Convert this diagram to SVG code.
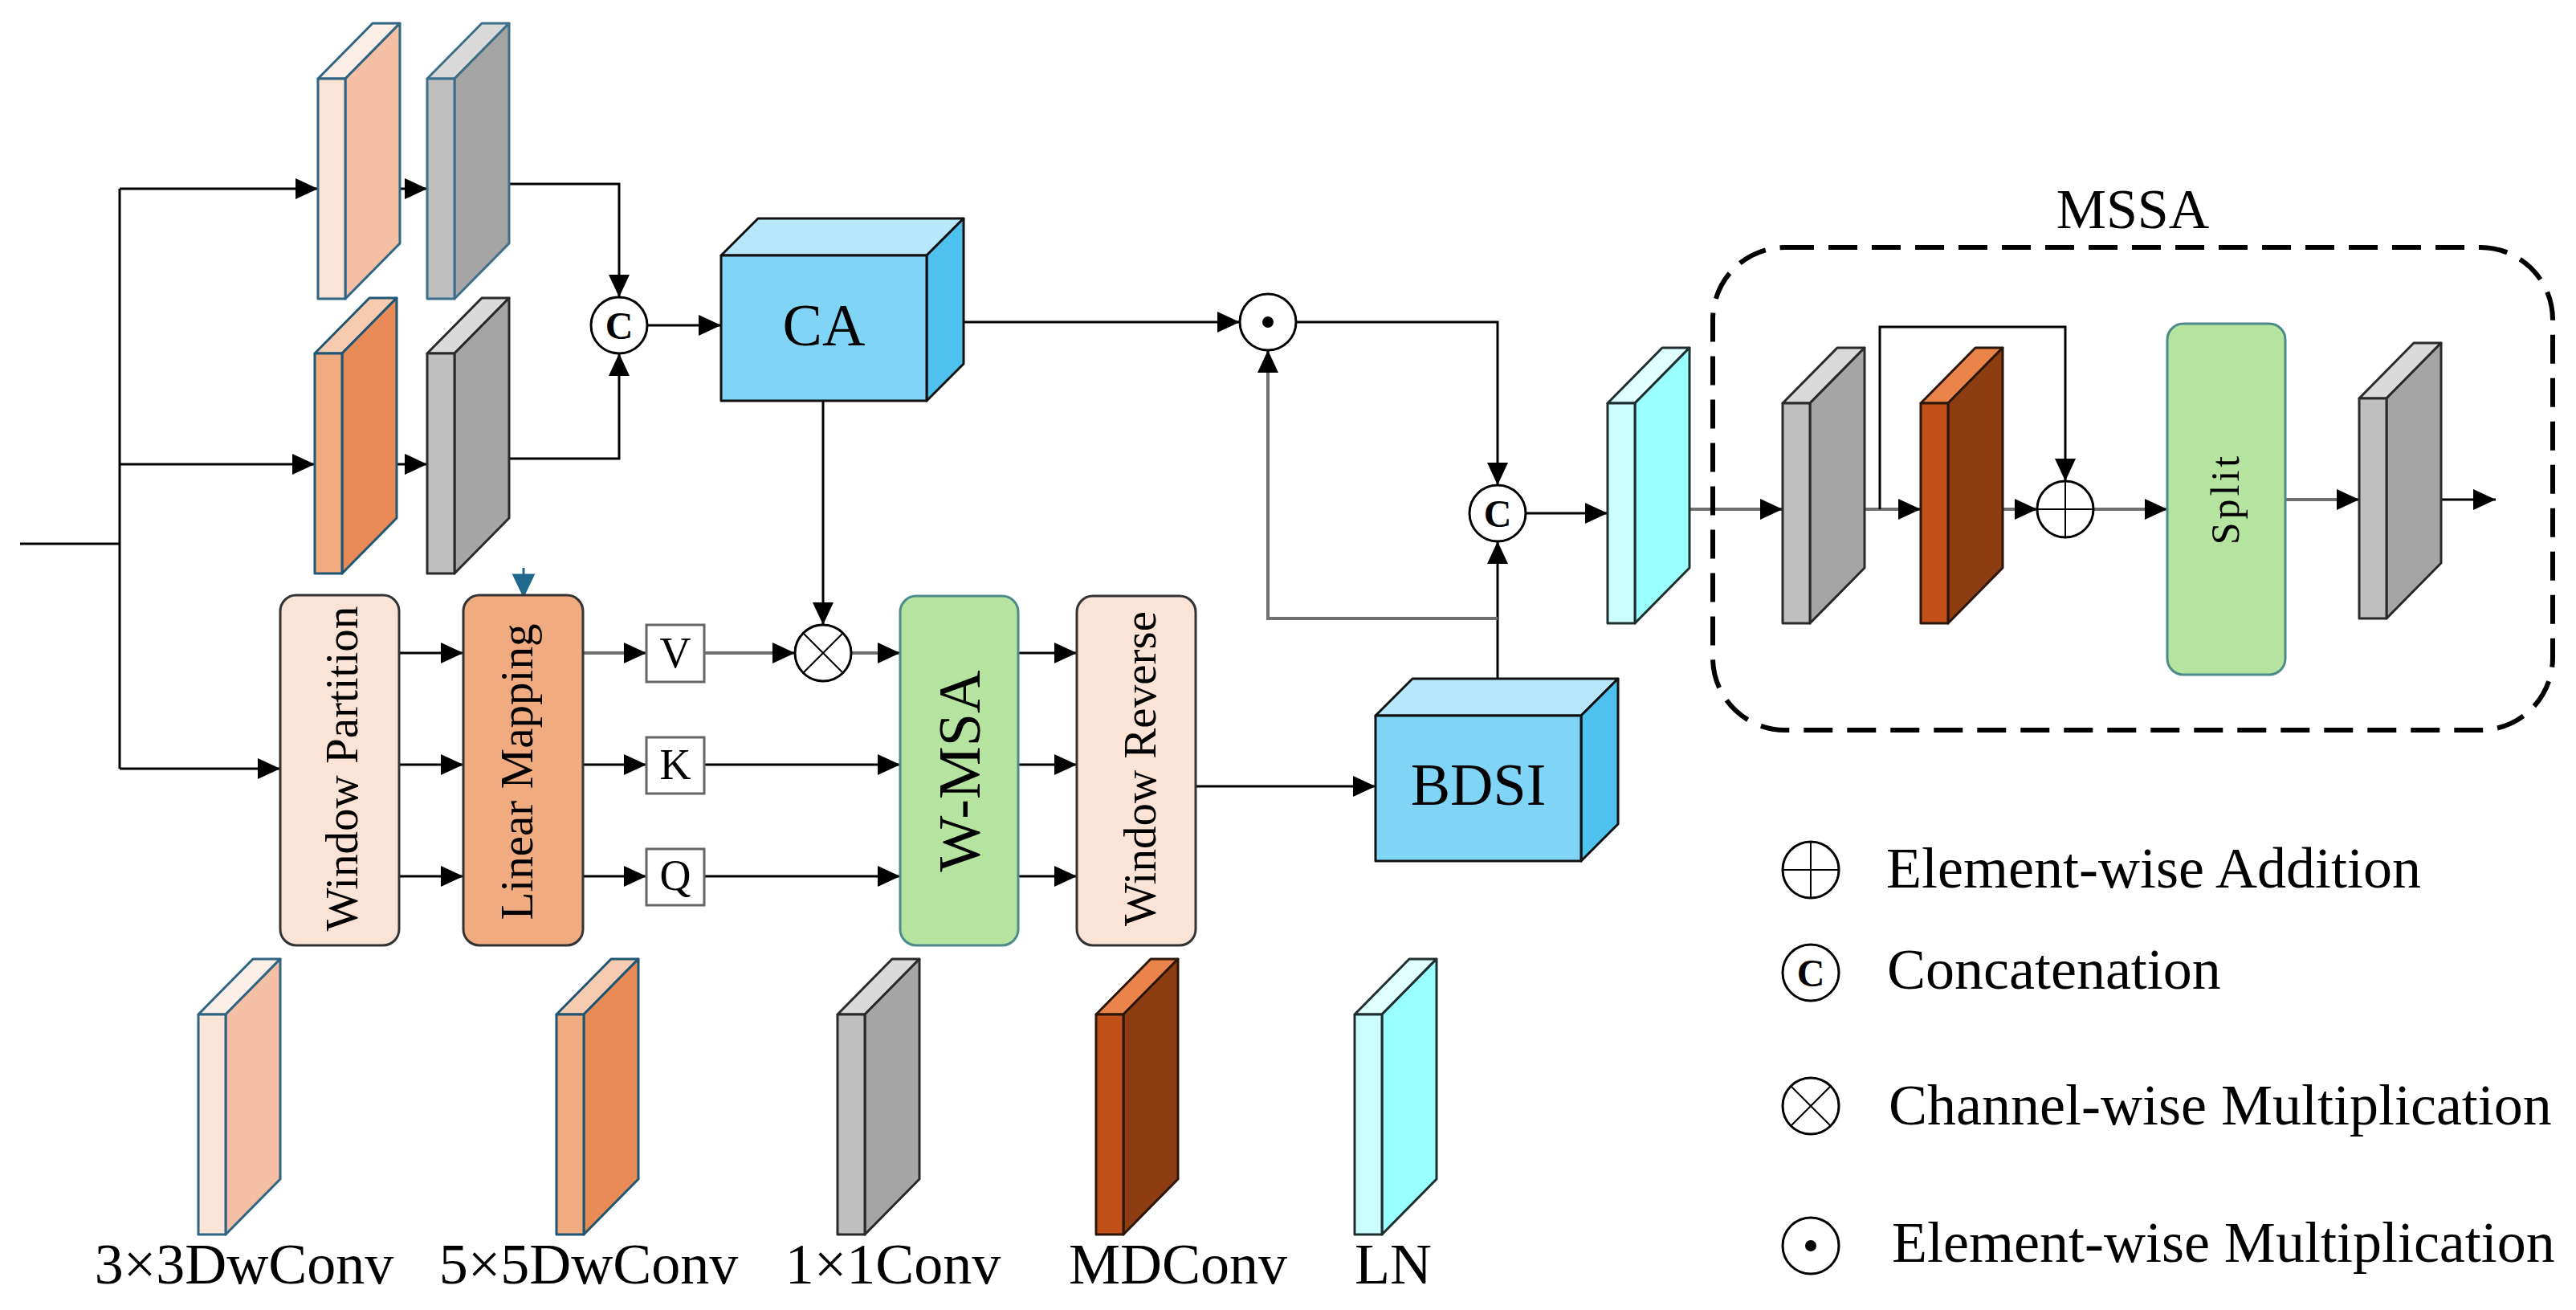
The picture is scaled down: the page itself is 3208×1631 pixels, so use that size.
<svg xmlns="http://www.w3.org/2000/svg" xmlns:xlink="http://www.w3.org/1999/xlink" width="3208" height="1631" viewBox="0 0 3208 1631">
<style>
.t{font-family:"Liberation Serif","Times New Roman",serif;fill:#000}
.ln{fill:none;stroke:#000;stroke-width:3}
.lg{fill:none;stroke:#707070;stroke-width:4}
.arr{marker-end:url(#ah)}
.op{fill:#fff;stroke:#000;stroke-width:3}
.box{stroke-width:3}
</style>
<defs>
<marker id="ah" viewBox="0 0 28 26" refX="28" refY="13" markerWidth="28" markerHeight="26" markerUnits="userSpaceOnUse" orient="auto"><path d="M0,0 L28,13 L0,26 z" fill="#000"/></marker>
<g id="slab-peach" stroke="#2f6482" stroke-width="3" stroke-linejoin="round">
<path d="M0,0 L68,-69 L102,-69 L34,0 z" fill="#fcefe8"/>
<path d="M34,0 L102,-69 L102,205 L34,274 z" fill="#f4bfa5"/>
<path d="M0,0 h34 v274 h-34 z" fill="#fbe3d6"/>
</g>
<g id="slab-orange" stroke="#1f5673" stroke-width="3" stroke-linejoin="round">
<path d="M0,0 L68,-69 L102,-69 L34,0 z" fill="#f7cbb0"/>
<path d="M34,0 L102,-69 L102,205 L34,274 z" fill="#e98b56"/>
<path d="M0,0 h34 v274 h-34 z" fill="#f0ab80"/>
</g>
<g id="slab-grayb" stroke="#3d6f8a" stroke-width="3" stroke-linejoin="round">
<path d="M0,0 L68,-69 L102,-69 L34,0 z" fill="#dadada"/>
<path d="M34,0 L102,-69 L102,205 L34,274 z" fill="#a5a5a5"/>
<path d="M0,0 h34 v274 h-34 z" fill="#bfbfbf"/>
</g>
<g id="slab-gray" stroke="#2a2a2a" stroke-width="3" stroke-linejoin="round">
<path d="M0,0 L68,-69 L102,-69 L34,0 z" fill="#dadada"/>
<path d="M34,0 L102,-69 L102,205 L34,274 z" fill="#a5a5a5"/>
<path d="M0,0 h34 v274 h-34 z" fill="#bfbfbf"/>
</g>
<g id="slab-brown" stroke="#2a160a" stroke-width="3" stroke-linejoin="round">
<path d="M0,0 L68,-69 L102,-69 L34,0 z" fill="#ea844a"/>
<path d="M34,0 L102,-69 L102,205 L34,274 z" fill="#8e3c12"/>
<path d="M0,0 h34 v274 h-34 z" fill="#c05018"/>
</g>
<g id="slab-cyan" stroke="#1f2f2f" stroke-width="3" stroke-linejoin="round">
<path d="M0,0 L68,-69 L102,-69 L34,0 z" fill="#e0ffff"/>
<path d="M34,0 L102,-69 L102,205 L34,274 z" fill="#99ffff"/>
<path d="M0,0 h34 v274 h-34 z" fill="#ccffff"/>
</g>
<g id="cube" stroke="#111" stroke-width="3" stroke-linejoin="round">
<path d="M0,0 L46,-46 L302,-46 L256,0 z" fill="#b7e7fa"/>
<path d="M256,0 L302,-46 L302,135 L256,181 z" fill="#4fc1ee"/>
<path d="M0,0 h256 v181 h-256 z" fill="#80d4f6"/>
</g>
</defs>
<rect width="3208" height="1631" fill="#fff"/>

<g id="connectors">
<path class="ln" d="M25,677 H149 M149,235 V957"/>
<path class="ln arr" d="M149,235 H396"/>
<path class="ln arr" d="M149,578 H392"/>
<path class="ln arr" d="M149,957 H349"/>
<path class="ln arr" d="M470,235 H532"/>
<path class="ln arr" d="M464,578 H532"/>
<path class="ln arr" d="M607,229 H771 V370"/>
<path class="ln arr" d="M607,571 H771 V440"/>
<path class="ln arr" d="M806,405 H898"/>
<path class="ln arr" d="M1199,401 H1544"/>
<path class="ln arr" d="M1025,498 V778"/>
<path class="ln arr" d="M1614,401 H1865 V604"/>
<path class="ln arr" d="M1865,846 V674"/>
<path class="lg arr" d="M1865,770 H1579 V436"/>
<path class="ln arr" d="M1900,639 H2002"/>
<path class="lg arr" d="M2077,634 H2220"/>
<path class="lg arr" d="M2295,634 H2392"/>
<path class="ln arr" d="M2341,634 V407 H2572 V599"/>
<path class="lg arr" d="M2467,634 H2537"/>
<path class="lg arr" d="M2607,634 H2699"/>
<path class="lg arr" d="M2846,622 H2938"/>
<path class="ln arr" d="M3013,622 H3108"/>
<path class="ln arr" d="M497,813 H577"/>
<path class="ln arr" d="M497,952 H577"/>
<path class="ln arr" d="M497,1091 H577"/>
<path class="lg arr" d="M726,813 H805"/>
<path class="ln arr" d="M726,952 H805"/>
<path class="ln arr" d="M726,1091 H805"/>
<path class="lg arr" d="M877,813 H990"/>
<path class="lg arr" d="M1060,813 H1121"/>
<path class="ln arr" d="M877,952 H1121"/>
<path class="ln arr" d="M877,1091 H1121"/>
<path class="ln arr" d="M1268,813 H1341"/>
<path class="ln arr" d="M1268,952 H1341"/>
<path class="ln arr" d="M1268,1091 H1341"/>
<path class="ln arr" d="M1489,979 H1713"/>
<path d="M652,707 V720 M640,716 L664,716 L652,741 z" fill="#1f6a8c" stroke="#1f6a8c" stroke-width="3"/>
</g>

<g id="dwconv3-top"><use href="#slab-peach" x="396" y="98"/></g>
<g id="conv1x1-top"><use href="#slab-grayb" x="532" y="98"/></g>
<g id="dwconv5-mid"><use href="#slab-orange" x="392" y="440"/></g>
<g id="conv1x1-mid"><use href="#slab-gray" x="532" y="440"/></g>

<g id="concat1"><circle class="op" cx="771" cy="405" r="35"/><text class="t" x="771" y="422" font-size="48" font-weight="bold" text-anchor="middle">C</text></g>

<g id="ca"><use href="#cube" x="898" y="318"/><text class="t" x="1026" y="430" font-size="74" text-anchor="middle">CA</text></g>

<g id="emul"><circle class="op" cx="1579" cy="401" r="35"/><circle cx="1579" cy="401" r="7" fill="#000"/></g>

<g id="window-partition"><rect class="box" x="349" y="741" width="148" height="436" rx="20" fill="#fbe3d6" stroke="#333"/><text class="t" transform="translate(445,957) rotate(-90)" font-size="57" text-anchor="middle">Window Partition</text></g>

<g id="linear-mapping"><rect class="box" x="577" y="741" width="149" height="436" rx="20" fill="#f0ab80" stroke="#333"/><text class="t" transform="translate(663,961) rotate(-90)" font-size="57" text-anchor="middle">Linear Mapping</text></g>

<g id="v"><rect x="805" y="778" width="72" height="71" fill="#fff" stroke="#666" stroke-width="3"/><text class="t" x="841" y="831" font-size="54" text-anchor="middle">V</text></g>
<g id="k"><rect x="805" y="918" width="72" height="70" fill="#fff" stroke="#666" stroke-width="3"/><text class="t" x="841" y="970" font-size="54" text-anchor="middle">K</text></g>
<g id="q"><rect x="805" y="1057" width="72" height="70" fill="#fff" stroke="#666" stroke-width="3"/><text class="t" x="841" y="1108" font-size="54" text-anchor="middle">Q</text></g>

<g id="cmul"><circle class="op" cx="1025" cy="813" r="35"/><path d="M1000,788 L1050,838 M1050,788 L1000,838" stroke="#000" stroke-width="2"/></g>

<g id="w-msa"><rect class="box" x="1121" y="742" width="147" height="435" rx="20" fill="#b4e4a0" stroke="#4f8a8a"/><text class="t" transform="translate(1220,960) rotate(-90)" font-size="74" text-anchor="middle">W-MSA</text></g>

<g id="window-reverse"><rect class="box" x="1341" y="742" width="148" height="435" rx="20" fill="#fbe3d6" stroke="#333"/><text class="t" transform="translate(1439,957) rotate(-90)" font-size="57" text-anchor="middle">Window Reverse</text></g>

<g id="bdsi"><use href="#cube" x="1713" y="891"/><text class="t" x="1841" y="1002" font-size="74" text-anchor="middle">BDSI</text></g>

<g id="concat2"><circle class="op" cx="1865" cy="639" r="35"/><text class="t" x="1865" y="656" font-size="48" font-weight="bold" text-anchor="middle">C</text></g>

<g id="ln-main"><use href="#slab-cyan" x="2002" y="502"/></g>

<g id="mssa">
<rect x="2133" y="308" width="1046" height="601" rx="90" fill="none" stroke="#000" stroke-width="6" stroke-dasharray="36 18"/>
<text class="t" x="2656" y="284" font-size="70" text-anchor="middle">MSSA</text>
</g>
<g id="mssa-conv1"><use href="#slab-gray" x="2220" y="502"/></g>
<g id="mssa-mdconv"><use href="#slab-brown" x="2392" y="502"/></g>
<g id="add"><circle class="op" cx="2572" cy="634" r="35"/><path d="M2537,634 H2607 M2572,599 V669" stroke="#000" stroke-width="2"/></g>
<g id="split"><rect class="box" x="2699" y="403" width="147" height="437" rx="20" fill="#b4e4a0" stroke="#4f8a8a"/><text class="t" transform="translate(2788,621) rotate(-90)" font-size="50" letter-spacing="4" text-anchor="middle">Split</text></g>
<g id="mssa-conv2"><use href="#slab-gray" x="2938" y="496"/></g>

<g id="legend-dwconv3"><use href="#slab-peach" x="247" y="1263"/><text class="t" x="304" y="1598" font-size="72" text-anchor="middle">3×3DwConv</text></g>
<g id="legend-dwconv5"><use href="#slab-orange" x="693" y="1263"/><text class="t" x="733" y="1598" font-size="72" text-anchor="middle">5×5DwConv</text></g>
<g id="legend-conv1"><use href="#slab-gray" x="1043" y="1263"/><text class="t" x="1112" y="1598" font-size="72" text-anchor="middle">1×1Conv</text></g>
<g id="legend-mdconv"><use href="#slab-brown" x="1365" y="1263"/><text class="t" x="1467" y="1598" font-size="72" text-anchor="middle">MDConv</text></g>
<g id="legend-ln"><use href="#slab-cyan" x="1687" y="1263"/><text class="t" x="1735" y="1598" font-size="72" text-anchor="middle">LN</text></g>

<g id="legend-add"><circle class="op" cx="2255" cy="1083" r="35"/><path d="M2220,1083 H2290 M2255,1048 V1118" stroke="#000" stroke-width="2"/><text class="t" x="2349" y="1105" font-size="72">Element-wise Addition</text></g>
<g id="legend-concat"><circle class="op" cx="2255" cy="1211" r="35"/><text class="t" x="2255" y="1228" font-size="48" font-weight="bold" text-anchor="middle">C</text><text class="t" x="2350" y="1231" font-size="72">Concatenation</text></g>
<g id="legend-cmul"><circle class="op" cx="2255" cy="1377" r="35"/><path d="M2230,1352 L2280,1402 M2280,1352 L2230,1402" stroke="#000" stroke-width="2"/><text class="t" x="2352" y="1400" font-size="72">Channel-wise Multiplication</text></g>
<g id="legend-emul"><circle class="op" cx="2255" cy="1551" r="35"/><circle cx="2255" cy="1551" r="7" fill="#000"/><text class="t" x="2356" y="1571" font-size="72">Element-wise Multiplication</text></g>
</svg>
